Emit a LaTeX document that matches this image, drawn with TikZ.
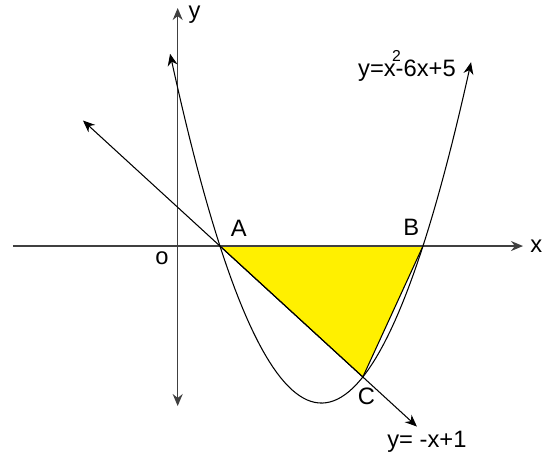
\documentclass[tikz,border=0pt]{standalone}
\usepackage{fontspec}
\setmainfont{Liberation Sans}
\usetikzlibrary{arrows.meta, positioning}
\definecolor{areayellow}{RGB}{255,240,0}
\newcommand{\hisq}{\rlap{\hspace{-2pt}\raisebox{0.62em}{\fontsize{9}{9}\selectfont 2}}}
\begin{document}
\begin{tikzpicture}[x=1.015cm, y=0.785cm, font=\fontsize{13.5}{16}\selectfont, >={Stealth[length=2.4mm,width=2mm]}]
    \tikzstyle{axis} = [draw=black!75, line width=0.8pt]
    \tikzstyle{curve} = [draw=black, line width=0.6pt, <->]
    \tikzstyle{ptlabel} = [inner sep=1pt]
    \useasboundingbox (-3.501,-5.325) rectangle (7.513,6.268);

    % points
    \coordinate (O) at (0,0);
    \coordinate (A) at (0.833,0);
    \coordinate (B) at (4.833,0);
    \coordinate (C) at (3.648,-3.336);
    \coordinate (xstart) at (-3.245,0);
    \coordinate (xend) at (6.804,0);
    \coordinate (ystart) at (0,-4.076);
    \coordinate (yend) at (0,6.064);
    \coordinate (lstart) at (-1.866,3.198);
    \coordinate (lend) at (4.714,-4.599);

    % area ABC
    \filldraw [fill=areayellow, draw=black, line width=0.6pt] (A) -- (B) -- (C) -- cycle;

    % axes
    \draw [axis, ->] (xstart) -- (xend);
    \draw [axis, <->] (ystart) -- (yend);
    \node [ptlabel, right=3pt of xend] (xlabel) {x};
    \node [ptlabel, right=5pt of yend, yshift=-4pt] (ylabel) {y};
    \node [ptlabel, below left=2pt and 4pt of O] (olabel) {o};

    % parabola
    \draw [curve, samples=80, domain=-0.15:5.78] plot (\x, {(\x-0.833)*(\x-4.833)});
    \node (parlabel) at (4.517,4.586) {y=x\hisq-6x+5};

    % line
    \draw [curve] (lstart) -- (lend);
    \node (linelabel) at (4.911,-4.99) {y= -x+1};

    % point labels
    \node [ptlabel, above right=4pt and 5pt of A] (alabel) {A};
    \node [ptlabel, above left=5pt and 1pt of B] (blabel) {B};
    \node [ptlabel, below=5pt of C, xshift=2pt] (clabel) {C};

\end{tikzpicture}
\end{document}
